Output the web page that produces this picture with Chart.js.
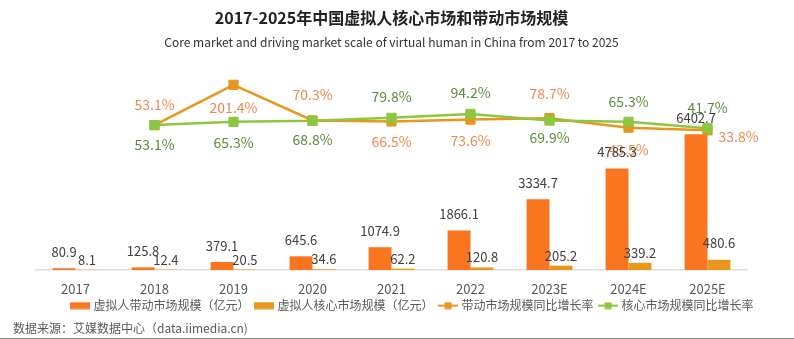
<!DOCTYPE html>
<html>
<head>
<meta charset="utf-8">
<script src="https://cdn.jsdelivr.net/npm/chart.js@4.4.1/dist/chart.umd.min.js"></script>
<style>
  html, body { margin: 0; padding: 0; background: #fff; }
  #wrap { width: 794px; height: 339px; position: relative; }
</style>
</head>
<body>
<div id="wrap"><canvas id="grafico"></canvas></div>
<script>
// Datos
const anios = ["2017", "2018", "2019", "2020", "2021", "2022", "2023E", "2024E", "2025E"];
const mercadoImpulsado = [80.9, 125.8, 379.1, 645.6, 1074.9, 1866.1, 3334.7, 4785.3, 6402.7];
const mercadoNucleo = [8.1, 12.4, 20.5, 34.6, 62.2, 120.8, 205.2, 339.2, 480.6];
const crecimientoImpulsado = [null, 53.1, 201.4, 70.3, 66.5, 73.6, 78.7, 43.5, 33.8];
const crecimientoNucleo = [null, 53.1, 65.3, 68.8, 79.8, 94.2, 69.9, 65.3, 41.7];

const nombres = [
  "虚拟人带动市场规模（亿元）",
  "虚拟人核心市场规模（亿元）",
  "带动市场规模同比增长率",
  "核心市场规模同比增长率"
];

const FUENTE = "'Noto Sans CJK SC', 'Noto Sans', sans-serif";
Chart.defaults.font.family = FUENTE;

const naranja = "#F97520";
const ambar = "#E8961C";
const verde = "#8DC641";

// muestras para la leyenda
function muestra(tipo, color) {
  const c = document.createElement("canvas");
  c.width = 20; c.height = 8;
  const g = c.getContext("2d");
  g.fillStyle = color;
  if (tipo === "bar") {
    g.fillRect(0, 0.5, 20, 7);
  } else {
    g.fillRect(0, 3, 20, 2);
    g.fillRect(6.5, 0.5, 7, 7);
  }
  return c;
}

// etiquetas de valores (primero las líneas, luego las barras encima)
const etiquetas = {
  id: "etiquetas",
  afterDatasetsDraw(chart) {
    const ctx = chart.ctx;
    ctx.save();
    ctx.textAlign = "center";
    ctx.textBaseline = "middle";
    [3, 2, 1, 0].forEach(i => {
      const ds = chart.data.datasets[i];
      const meta = chart.getDatasetMeta(i);
      meta.data.forEach((el, j) => {
        const v = ds.data[j];
        if (v === null) return;
        const off = ds.etiquetaOff[j] || ds.etiquetaOff.def;
        ctx.font = ds.type === "line" ? "14px " + FUENTE : "13px " + FUENTE;
        ctx.fillStyle = ds.etiquetaColor;
        const txt = ds.type === "line" ? v.toFixed(1) + "%" : v.toFixed(1);
        ctx.fillText(txt, el.x + off[0], el.y + off[1]);
      });
    });
    ctx.restore();
  }
};

// fuente de datos y línea inferior
const pie = {
  id: "pie",
  afterLayout(chart) {
    const l = chart.legend;
    l.left += 21.5; l.right += 21.5;
    l.top -= 15; l.bottom -= 15;
  },
  afterDraw(chart) {
    const ctx = chart.ctx;
    ctx.save();
    ctx.font = "12px " + FUENTE;
    ctx.fillStyle = "#595959";
    ctx.textBaseline = "middle";
    ctx.textAlign = "left";
    ctx.fillText("数据来源：艾媒数据中心（data.iimedia.cn)", 13, 328);
    ctx.strokeStyle = "#8a8a8a";
    ctx.lineWidth = 1;
    ctx.beginPath();
    ctx.moveTo(0, 338.5);
    ctx.lineTo(794, 338.5);
    ctx.stroke();
    ctx.restore();
  }
};

const chart = new Chart(document.getElementById("grafico").getContext("2d"), {
  data: {
    labels: anios,
    datasets: [
      {
        type: "bar", label: nombres[0], data: mercadoImpulsado, yAxisID: "y",
        backgroundColor: naranja, order: 2,
        etiquetaColor: "#404040", etiquetaOff: { def: [0, -16] }
      },
      {
        type: "bar", label: nombres[1], data: mercadoNucleo, yAxisID: "y",
        backgroundColor: ambar, order: 3,
        etiquetaColor: "#404040", etiquetaOff: { def: [0, -10], 8: [0, -17] }
      },
      {
        type: "line", label: nombres[2], data: crecimientoImpulsado, yAxisID: "y2",
        borderColor: ambar, backgroundColor: ambar, borderWidth: 2.5,
        pointStyle: "rect", pointRadius: 6.5, pointBorderWidth: 1,
        pointBackgroundColor: ambar, pointBorderColor: ambar, order: 1,
        etiquetaColor: "#EE8A50",
        etiquetaOff: { def: [0, 21], 1: [0, -20], 2: [0, 23], 3: [0, -26], 4: [0, 20], 5: [0, 21.5], 6: [0, -24], 7: [0, 21.5], 8: [31, 6] }
      },
      {
        type: "line", label: nombres[3], data: crecimientoNucleo, yAxisID: "y2",
        borderColor: verde, backgroundColor: verde, borderWidth: 2.5,
        pointStyle: "rect", pointRadius: 6.5, pointBorderWidth: 1,
        pointBackgroundColor: verde, pointBorderColor: verde, order: 0,
        etiquetaColor: "#5E8C3E",
        etiquetaOff: { def: [0, 21], 1: [0, 20], 2: [0, 21], 3: [0, 19], 4: [0, -21], 5: [0, -21], 6: [0, 17], 7: [0, -20], 8: [0, -21] }
      }
    ]
  },
  options: {
    responsive: true,
    maintainAspectRatio: false,
    animation: false,
    devicePixelRatio: 1,
    layout: { padding: { left: 36, right: 47, top: 0, bottom: 2.4 } },
    datasets: { bar: { categoryPercentage: 0.58, barPercentage: 1 } },
    scales: {
      x: {
        grid: { display: false, drawTicks: false },
        border: { display: true, color: "#E6DCD2", width: 1.5 },
        ticks: { color: "#595959", font: { size: 13 }, padding: 11 }
      },
      y: { display: false, min: 0, max: 10000 },
      y2: { display: false, min: -480, max: 300 }
    },
    plugins: {
      title: {
        display: true,
        text: "2017-2025年中国虚拟人核心市场和带动市场规模",
        color: "#222",
        font: { size: 16, weight: "bold" },
        padding: { top: 8, bottom: 8 }
      },
      subtitle: {
        display: true,
        text: "Core market and driving market scale of virtual human in China from 2017 to 2025",
        color: "#333",
        font: { size: 12 },
        padding: { top: 0, bottom: 8.4 }
      },
      legend: {
        position: "bottom",
        labels: {
          usePointStyle: true,
          pointStyleWidth: 15,
          padding: 7,
          color: "#595959",
          font: { size: 12 },
          generateLabels(ch) {
            return ch.data.datasets.map((ds, i) => ({
              text: ds.label,
              pointStyle: muestra(ds.type, ds.type === "bar" ? ds.backgroundColor : ds.borderColor),
              fillStyle: ds.backgroundColor,
              strokeStyle: ds.backgroundColor,
              lineWidth: 0,
              hidden: false,
              datasetIndex: i,
              fontColor: "#595959"
            }));
          }
        }
      },
      tooltip: { enabled: false }
    }
  },
  plugins: [etiquetas, pie]
});
</script>
</body>
</html>
